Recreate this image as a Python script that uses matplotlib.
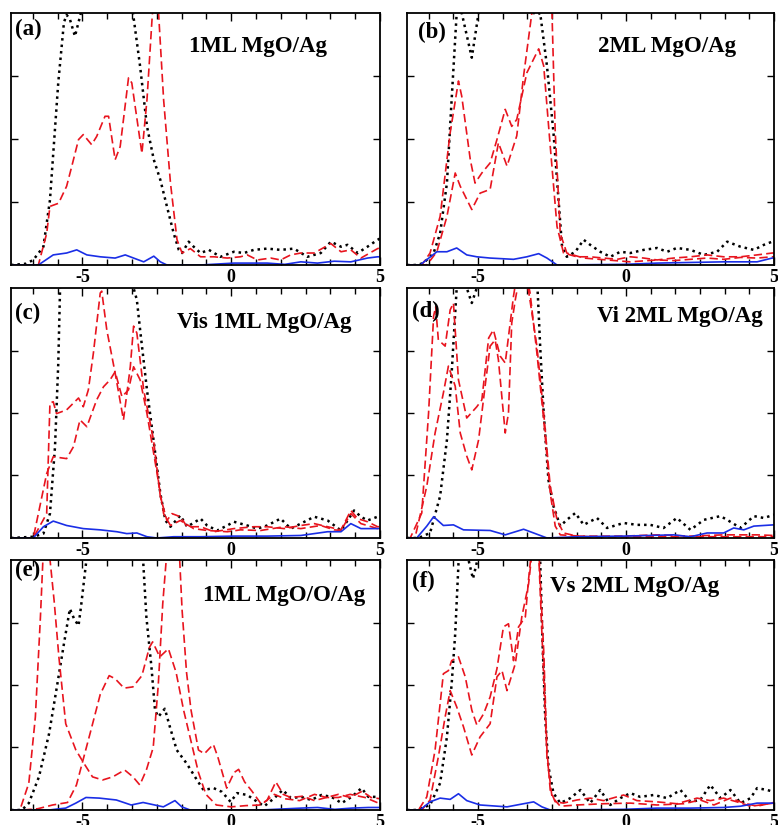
import matplotlib
matplotlib.use("Agg")

import matplotlib.pyplot as plt
from matplotlib.ticker import MultipleLocator, FixedLocator

# =========================
# Data
# =========================
# (a) 1ML MgO/Ag
A_BLACK_X = [-7.4, -6.9, -6.65, -6.31, -6.09, -5.81, -5.62, -5.53, -5.42, -5.25, -5.05, -4.9, -4.5, -4.0, -3.5, -3.3, -3.06, -2.83, -2.6, -2.38, -2.16, -1.93, -1.76, -1.65, -1.43, -1.26, -1.03, -0.75, -0.36, 0.09, 0.43, 0.76, 1.21, 1.66, 2.11, 2.56, 3.01, 3.35, 3.69, 3.91, 4.25, 4.58, 4.92, 5.0]
A_BLACK_Y = [0.0, 0.02, 0.08, 0.29, 1.03, 2.9, 3.85, 3.97, 3.9, 3.63, 4.0, 4.4, 5.5, 6.0, 5.0, 4.0, 3.15, 2.2, 1.67, 1.35, 0.93, 0.5, 0.24, 0.19, 0.37, 0.29, 0.19, 0.24, 0.13, 0.21, 0.19, 0.24, 0.26, 0.24, 0.26, 0.13, 0.19, 0.37, 0.29, 0.32, 0.19, 0.29, 0.4, 0.42]
A_RED_X = [-7.4, -6.48, -6.2, -6.09, -5.8, -5.53, -5.36, -5.13, -4.97, -4.69, -4.52, -4.24, -4.12, -3.9, -3.73, -3.45, -3.34, -3.0, -2.83, -2.66, -2.55, -2.44, -2.27, -2.04, -1.82, -1.65, -1.37, -1.03, -0.58, -0.13, 0.31, 0.54, 0.88, 1.33, 1.66, 2.0, 2.34, 2.79, 3.35, 3.69, 4.02, 4.36, 4.92, 5.0]
A_RED_Y = [0.0, 0.0, 0.5, 0.93, 0.98, 1.25, 1.56, 1.99, 2.07, 1.91, 2.04, 2.36, 2.36, 1.67, 1.88, 2.97, 2.89, 1.77, 2.62, 3.9, 4.6, 4.0, 2.62, 1.3, 0.4, 0.19, 0.26, 0.13, 0.13, 0.11, 0.13, 0.16, 0.08, 0.11, 0.08, 0.16, 0.19, 0.19, 0.34, 0.21, 0.24, 0.11, 0.26, 0.27]
A_BLUE_X = [-7.4, -6.48, -5.98, -5.53, -5.19, -4.85, -4.4, -3.9, -3.56, -3.28, -2.94, -2.6, -2.38, -2.16, -1.03, 0.09, 1.21, 1.8, 2.34, 2.9, 3.46, 4.02, 4.58, 4.92, 5.0]
A_BLUE_Y = [0.0, 0.0, 0.16, 0.19, 0.24, 0.16, 0.13, 0.11, 0.16, 0.11, 0.05, 0.14, 0.05, 0.0, 0.0, 0.03, 0.03, 0.01, 0.05, 0.03, 0.06, 0.05, 0.11, 0.13, 0.13]

# (b) 2ML MgO/Ag
B_BLACK_X = [-7.4, -7.07, -6.84, -6.5, -6.28, -6.05, -5.89, -5.72, -5.63, -5.55, -5.21, -4.98, -4.87, -4.5, -4.0, -3.5, -3.12, -3.01, -2.9, -2.67, -2.45, -2.28, -2.16, -2.0, -1.71, -1.43, -1.21, -0.87, -0.53, -0.19, 0.15, 0.6, 1.05, 1.39, 1.72, 2.18, 2.63, 3.08, 3.42, 3.87, 4.32, 4.66, 4.94, 5.0]
B_BLACK_Y = [0.0, 0.0, 0.03, 0.19, 0.5, 1.3, 2.63, 4.0, 4.3, 4.0, 3.29, 4.0, 4.4, 5.5, 6.0, 5.0, 4.0, 3.97, 4.0, 3.16, 2.1, 1.04, 0.29, 0.13, 0.21, 0.4, 0.32, 0.21, 0.13, 0.21, 0.19, 0.24, 0.27, 0.21, 0.27, 0.24, 0.16, 0.21, 0.37, 0.29, 0.24, 0.32, 0.37, 0.38]
B_RED1_X = [-7.4, -6.9, -6.62, -6.28, -5.94, -5.66, -5.55, -5.26, -5.1, -4.87, -4.59, -4.36, -4.08, -3.86, -3.69, -3.35, -2.95, -2.78, -2.56, -2.33, -2.11, -1.66, -1.21, -0.76, -0.3, 0.15, 0.6, 1.05, 1.61, 2.18, 2.74, 3.3, 3.87, 4.43, 4.94, 5.0]
B_RED1_Y = [0.0, 0.0, 0.19, 0.77, 2.1, 2.92, 2.68, 1.67, 1.3, 1.46, 1.62, 1.99, 2.47, 2.2, 2.31, 3.05, 3.43, 3.16, 1.89, 0.61, 0.19, 0.13, 0.13, 0.11, 0.09, 0.13, 0.11, 0.08, 0.11, 0.13, 0.16, 0.13, 0.13, 0.16, 0.19, 0.19]
B_RED2_X = [-7.4, -6.73, -6.39, -6.05, -5.77, -5.6, -5.21, -4.93, -4.59, -4.31, -4.02, -3.69, -3.46, -3.18, -2.9, -2.5, -2.39, -2.22, -2.0, -1.43, -0.64, 0.15, 1.05, 1.61, 2.18, 2.74, 3.3, 3.87, 4.43, 4.94, 5.0]
B_RED2_Y = [0.0, 0.0, 0.21, 0.77, 1.46, 1.25, 0.88, 1.14, 1.2, 1.94, 1.57, 2.05, 3.0, 4.0, 4.5, 4.0, 2.1, 0.5, 0.19, 0.11, 0.08, 0.05, 0.08, 0.07, 0.09, 0.11, 0.09, 0.12, 0.11, 0.13, 0.13]
B_BLUE_X = [-7.4, -6.96, -6.39, -6.05, -5.72, -5.38, -5.04, -4.59, -3.8, -3.35, -2.95, -2.67, -2.33, -0.08, 1.05, 2.18, 3.3, 4.43, 4.94, 5.0]
B_BLUE_Y = [0.0, 0.0, 0.21, 0.21, 0.27, 0.16, 0.13, 0.11, 0.09, 0.13, 0.18, 0.11, 0.0, 0.01, 0.03, 0.04, 0.05, 0.05, 0.11, 0.11]

# (c) Vis 1ML MgO/Ag
C_BLACK_X = [-7.4, -6.65, -6.31, -6.09, -5.92, -5.81, -5.75, -5.6, -5.0, -4.0, -3.4, -3.28, -3.17, -3.06, -2.83, -2.61, -2.38, -2.21, -2.04, -1.71, -1.48, -1.03, -0.81, -0.47, -0.13, 0.09, 0.54, 0.88, 1.21, 1.66, 2.0, 2.34, 2.79, 3.24, 3.69, 4.13, 4.36, 4.58, 4.92, 5.0]
C_BLACK_Y = [0.0, 0.02, 0.07, 0.39, 1.46, 2.8, 4.0, 5.0, 6.0, 6.0, 4.5, 4.0, 3.81, 3.33, 2.37, 1.57, 0.71, 0.28, 0.18, 0.36, 0.18, 0.31, 0.2, 0.12, 0.2, 0.26, 0.2, 0.15, 0.2, 0.31, 0.15, 0.23, 0.34, 0.28, 0.12, 0.44, 0.34, 0.28, 0.34, 0.34]
C_RED1_X = [-7.4, -6.65, -6.2, -6.09, -5.98, -5.87, -5.53, -5.13, -4.97, -4.8, -4.63, -4.4, -4.35, -4.18, -3.9, -3.62, -3.39, -3.28, -3.17, -2.94, -2.61, -2.38, -2.16, -1.99, -1.71, -1.48, -1.03, -0.58, 0.09, 0.76, 1.21, 1.78, 2.34, 2.79, 3.24, 3.69, 4.02, 4.25, 4.58, 4.92, 5.0]
C_RED1_Y = [0.0, 0.0, 0.39, 2.16, 2.18, 1.99, 2.05, 2.24, 2.1, 2.37, 2.96, 3.92, 3.95, 3.33, 2.64, 1.89, 2.74, 3.39, 3.28, 2.37, 1.57, 0.66, 0.28, 0.39, 0.34, 0.18, 0.18, 0.1, 0.15, 0.18, 0.18, 0.15, 0.2, 0.23, 0.18, 0.13, 0.44, 0.31, 0.26, 0.18, 0.18]
C_RED2_X = [-7.4, -6.65, -6.2, -5.98, -5.53, -5.3, -5.08, -4.85, -4.52, -4.29, -4.07, -3.9, -3.67, -3.45, -3.28, -3.06, -2.83, -2.49, -2.27, -2.04, -1.71, -1.26, -0.81, -0.13, 0.31, 0.99, 1.78, 2.34, 3.01, 3.46, 3.69, 4.02, 4.36, 4.92, 5.0]
C_RED2_Y = [0.0, 0.0, 1.03, 1.3, 1.27, 1.46, 1.89, 1.78, 2.21, 2.42, 2.53, 2.66, 2.26, 2.37, 2.74, 2.53, 1.99, 1.03, 0.39, 0.2, 0.28, 0.15, 0.12, 0.1, 0.13, 0.12, 0.18, 0.15, 0.2, 0.13, 0.12, 0.39, 0.23, 0.15, 0.15]
C_BLUE_X = [-7.4, -6.65, -6.31, -5.98, -5.53, -4.97, -4.4, -3.84, -3.51, -3.17, -2.83, -2.5, -1.93, -1.03, 0.09, 1.21, 2.34, 3.24, 3.69, 4.02, 4.36, 4.92, 5.0]
C_BLUE_Y = [0.0, 0.0, 0.18, 0.27, 0.2, 0.15, 0.13, 0.1, 0.07, 0.08, 0.02, 0.0, 0.02, 0.02, 0.03, 0.03, 0.04, 0.1, 0.1, 0.23, 0.15, 0.15, 0.15]

# (d) Vi 2ML MgO/Ag
D_BLACK_X = [-7.4, -7.01, -6.62, -6.28, -6.05, -5.89, -5.77, -5.72, -5.55, -5.38, -5.21, -5.04, -4.87, -4.5, -4.0, -3.5, -3.01, -2.95, -2.9, -2.78, -2.62, -2.45, -2.22, -2.0, -1.71, -1.43, -0.98, -0.64, -0.08, 0.37, 0.82, 1.27, 1.72, 2.18, 2.63, 3.19, 3.42, 3.87, 4.32, 4.66, 4.99, 5.0]
D_BLACK_Y = [0.0, 0.0, 0.08, 0.67, 1.57, 2.64, 3.6, 4.0, 4.3, 4.0, 3.76, 4.0, 4.5, 5.5, 6.0, 5.5, 4.2, 3.6, 3.07, 2.0, 0.93, 0.51, 0.19, 0.29, 0.4, 0.21, 0.32, 0.16, 0.24, 0.21, 0.21, 0.16, 0.32, 0.13, 0.29, 0.35, 0.29, 0.16, 0.35, 0.32, 0.37, 0.37]
D_RED1_X = [-7.4, -7.29, -6.9, -6.67, -6.5, -6.43, -6.34, -6.11, -5.94, -5.83, -5.66, -5.38, -5.04, -4.87, -4.64, -4.48, -4.25, -4.08, -3.8, -3.69, -3.46, -3.29, -3.01, -2.78, -2.56, -2.33, -2.11, -1.66, -0.08, 1.05, 2.18, 3.3, 4.43, 5.0]
D_RED1_Y = [0.0, 0.0, 0.4, 2.0, 3.55, 3.7, 3.17, 3.07, 3.65, 3.76, 2.53, 1.92, 2.1, 2.21, 3.2, 3.33, 2.91, 2.8, 3.87, 4.2, 4.3, 3.95, 3.07, 2.0, 0.83, 0.29, 0.08, 0.03, 0.03, 0.05, 0.03, 0.05, 0.05, 0.04]
D_RED2_X = [-7.4, -7.13, -6.73, -6.45, -6.17, -6.0, -5.77, -5.6, -5.38, -5.21, -4.98, -4.76, -4.59, -4.42, -4.31, -4.08, -3.97, -3.86, -3.74, -3.63, -3.4, -3.24, -3.01, -2.78, -2.56, -2.39, -2.22, -1.21, 1.05, 3.3, 5.0]
D_RED2_Y = [0.0, 0.0, 0.83, 1.68, 2.32, 2.75, 2.43, 1.68, 1.31, 1.09, 1.57, 2.43, 3.07, 3.17, 2.85, 1.68, 2.0, 3.44, 3.81, 4.1, 4.3, 3.92, 2.96, 1.89, 0.72, 0.19, 0.05, 0.02, 0.02, 0.02, 0.02]
D_BLUE_X = [-7.4, -7.07, -6.73, -6.5, -6.17, -5.83, -5.49, -4.59, -4.08, -3.46, -3.12, -2.67, -1.66, -0.08, 1.61, 2.18, 2.74, 3.3, 3.64, 3.98, 4.32, 4.99, 5.0]
D_BLUE_Y = [0.0, 0.0, 0.19, 0.34, 0.2, 0.21, 0.13, 0.12, 0.05, 0.14, 0.08, 0.0, 0.02, 0.03, 0.05, 0.02, 0.08, 0.08, 0.16, 0.13, 0.19, 0.21, 0.21]

# (e) 1ML MgO/O/Ag
E_BLACK_X = [-7.4, -7.03, -6.8, -6.46, -6.12, -5.84, -5.62, -5.42, -5.28, -5.13, -5.05, -4.88, -4.7, -4.0, -3.3, -2.96, -2.85, -2.68, -2.56, -2.45, -2.23, -2.06, -1.83, -1.49, -1.15, -0.93, -0.59, -0.31, -0.02, 0.2, 0.54, 0.88, 1.11, 1.45, 1.73, 2.01, 2.35, 2.69, 3.03, 3.37, 3.71, 4.05, 4.38, 4.61, 4.95, 5.0]
E_BLACK_Y = [0.0, 0.0, 0.11, 0.53, 1.22, 2.02, 2.66, 3.22, 3.06, 2.95, 3.24, 3.94, 4.6, 6.0, 5.0, 4.0, 3.09, 2.29, 1.6, 1.49, 1.62, 1.33, 0.96, 0.74, 0.48, 0.32, 0.35, 0.29, 0.13, 0.27, 0.24, 0.13, 0.06, 0.19, 0.32, 0.19, 0.21, 0.16, 0.24, 0.21, 0.11, 0.21, 0.35, 0.21, 0.21, 0.21]
E_RED1_X = [-7.4, -7.1, -6.8, -6.58, -6.41, -6.3, -6.15, -5.95, -5.79, -5.56, -5.22, -4.94, -4.66, -4.32, -3.98, -3.58, -3.3, -3.07, -2.85, -2.62, -2.45, -2.3, -2.15, -1.95, -1.75, -1.65, -1.5, -1.35, -1.1, -0.9, -0.6, -0.45, -0.15, 0.1, 0.25, 0.45, 0.7, 1.0, 1.2, 1.5, 1.75, 2.0, 2.4, 2.8, 3.2, 3.6, 4.0, 4.4, 4.7, 5.0]
E_RED1_Y = [0.0, 0.0, 0.43, 1.49, 3.09, 4.3, 4.3, 3.35, 2.45, 1.38, 0.96, 0.74, 0.53, 0.48, 0.53, 0.64, 0.53, 0.4, 0.64, 1.0, 2.0, 3.3, 4.2, 4.6, 4.2, 3.2, 2.2, 1.6, 0.96, 0.9, 1.05, 0.85, 0.35, 0.6, 0.65, 0.45, 0.3, 0.1, 0.15, 0.45, 0.25, 0.2, 0.22, 0.15, 0.2, 0.25, 0.2, 0.3, 0.2, 0.18]
E_RED2_X = [-7.4, -7.0, -6.5, -6.0, -5.5, -5.2, -4.95, -4.7, -4.4, -4.1, -3.9, -3.6, -3.3, -3.0, -2.75, -2.64, -2.4, -2.11, -1.85, -1.6, -1.35, -1.1, -0.85, -0.5, 0.0, 0.5, 1.0, 1.45, 1.8, 2.3, 2.8, 3.2, 3.6, 4.0, 4.5, 5.0]
E_RED2_Y = [0.0, 0.0, 0.02, 0.08, 0.12, 0.4, 0.85, 1.3, 1.85, 2.15, 2.1, 1.95, 1.97, 2.15, 2.6, 2.69, 2.45, 2.58, 2.2, 1.6, 1.1, 0.6, 0.25, 0.08, 0.05, 0.07, 0.08, 0.25, 0.18, 0.15, 0.25, 0.2, 0.2, 0.25, 0.2, 0.1]
E_BLUE_X = [-7.4, -6.12, -5.56, -5.22, -4.88, -4.43, -3.86, -3.36, -2.96, -2.28, -1.89, -1.66, -1.38, 1.0, 2.35, 2.9, 3.48, 4.05, 4.61, 4.95, 5.0]
E_BLUE_Y = [0.0, 0.0, 0.03, 0.11, 0.2, 0.19, 0.16, 0.08, 0.12, 0.05, 0.15, 0.05, 0.0, 0.0, 0.03, 0.04, 0.01, 0.03, 0.04, 0.04, 0.04]

# (f) Vs 2ML MgO/Ag
F_BLACK_X = [-7.4, -7.07, -6.62, -6.28, -6.05, -5.89, -5.77, -5.66, -5.55, -5.32, -5.17, -5.02, -4.81, -4.3, -3.8, -3.3, -2.9, -2.81, -2.73, -2.62, -2.45, -2.22, -1.88, -1.54, -1.21, -0.87, -0.53, -0.19, 0.15, 0.48, 0.94, 1.39, 1.84, 2.18, 2.51, 2.85, 3.19, 3.53, 3.87, 4.21, 4.43, 4.77, 4.99, 5.0]
F_BLACK_Y = [0.0, 0.0, 0.08, 0.43, 1.17, 2.02, 2.82, 3.94, 4.3, 4.0, 3.7, 4.0, 4.6, 5.5, 6.0, 5.5, 4.0, 2.55, 1.49, 0.69, 0.27, 0.11, 0.19, 0.32, 0.11, 0.32, 0.08, 0.19, 0.27, 0.21, 0.24, 0.19, 0.32, 0.13, 0.16, 0.4, 0.19, 0.32, 0.11, 0.19, 0.35, 0.32, 0.29, 0.29]
F_RED1_X = [-7.4, -7.01, -6.73, -6.45, -6.17, -6.0, -5.89, -5.66, -5.43, -5.21, -5.04, -4.81, -4.59, -4.36, -4.14, -3.97, -3.8, -3.63, -3.4, -3.29, -3.18, -2.95, -2.78, -2.67, -2.56, -2.39, -2.11, -1.66, -1.21, -0.76, -0.08, 0.37, 1.05, 1.72, 2.4, 2.85, 3.3, 3.75, 4.21, 4.54, 4.99, 5.0]
F_RED1_Y = [0.0, 0.0, 0.21, 0.96, 2.18, 2.23, 2.39, 2.45, 2.13, 1.6, 1.36, 1.54, 1.81, 2.26, 2.93, 2.98, 2.39, 2.93, 3.09, 3.7, 4.2, 4.2, 2.55, 0.96, 0.32, 0.13, 0.11, 0.16, 0.19, 0.15, 0.24, 0.15, 0.13, 0.1, 0.19, 0.15, 0.19, 0.13, 0.06, 0.08, 0.11, 0.11]
F_RED2_X = [-7.4, -6.9, -6.62, -6.34, -6.11, -5.94, -5.72, -5.49, -5.21, -4.93, -4.59, -4.36, -4.19, -4.02, -3.74, -3.52, -3.29, -3.18, -2.95, -2.84, -2.67, -2.5, -2.22, -1.66, -0.76, 0.15, 1.05, 1.95, 2.51, 2.97, 3.53, 3.98, 4.43, 4.99, 5.0]
F_RED2_Y = [0.0, 0.0, 0.16, 0.85, 1.49, 1.91, 1.65, 1.33, 0.88, 1.17, 1.38, 2.13, 2.23, 1.91, 2.34, 3.09, 3.62, 4.1, 4.1, 2.82, 0.85, 0.21, 0.06, 0.08, 0.1, 0.11, 0.08, 0.1, 0.16, 0.08, 0.19, 0.11, 0.06, 0.12, 0.12]
F_BLUE_X = [-7.4, -6.96, -6.62, -6.28, -5.94, -5.66, -5.38, -4.93, -4.02, -3.46, -3.12, -2.84, -2.56, -0.08, 1.05, 2.18, 3.3, 3.87, 4.43, 4.99, 5.0]
F_BLUE_Y = [0.0, 0.0, 0.13, 0.19, 0.17, 0.26, 0.15, 0.08, 0.05, 0.1, 0.13, 0.05, 0.0, 0.01, 0.03, 0.03, 0.04, 0.06, 0.11, 0.11, 0.11]

PANEL_TAGS = ["(a)", "(b)", "(c)", "(d)", "(e)", "(f)"]
PANEL_TITLES = ["1ML MgO/Ag", "2ML MgO/Ag", "Vis 1ML MgO/Ag",
                "Vi 2ML MgO/Ag", "1ML MgO/O/Ag", "Vs 2ML MgO/Ag"]
X_TICKS = [-5, 0, 5]
X_TICK_LABELS = ["-5", "0", "5"]
Y_TICKS = [1, 2, 3]

PANELS = [
    ([(A_BLACK_X, A_BLACK_Y)], [(A_RED_X, A_RED_Y)], (A_BLUE_X, A_BLUE_Y)),
    ([(B_BLACK_X, B_BLACK_Y)], [(B_RED1_X, B_RED1_Y), (B_RED2_X, B_RED2_Y)], (B_BLUE_X, B_BLUE_Y)),
    ([(C_BLACK_X, C_BLACK_Y)], [(C_RED1_X, C_RED1_Y), (C_RED2_X, C_RED2_Y)], (C_BLUE_X, C_BLUE_Y)),
    ([(D_BLACK_X, D_BLACK_Y)], [(D_RED1_X, D_RED1_Y), (D_RED2_X, D_RED2_Y)], (D_BLUE_X, D_BLUE_Y)),
    ([(E_BLACK_X, E_BLACK_Y)], [(E_RED1_X, E_RED1_Y), (E_RED2_X, E_RED2_Y)], (E_BLUE_X, E_BLUE_Y)),
    ([(F_BLACK_X, F_BLACK_Y)], [(F_RED1_X, F_RED1_Y), (F_RED2_X, F_RED2_Y)], (F_BLUE_X, F_BLUE_Y)),
]

# =========================
# Style / layout
# =========================
plt.rcParams["font.family"] = ["Liberation Serif", "DejaVu Serif"]
plt.rcParams["font.weight"] = "bold"
plt.rcParams["axes.unicode_minus"] = False

FIG_W, FIG_H = 7.78, 8.25
DPI = 100

# axes rectangles in figure fractions [left, bottom, width, height]
COL_LEFT = [0.0141, 0.5231]
COL_W = [0.4743, 0.4717]
ROW_BOTTOM = [0.6788, 0.3479, 0.0182]
ROW_H = [0.3055, 0.303, 0.303]

# label / title placement (axes fractions, top-left anchor)
TAG_POS = [(0.012, 0.975), (0.03, 0.965), (0.012, 0.94), (0.014, 0.95), (0.012, 1.0), (0.014, 0.955)]
TITLE_POS = [(0.482, 0.91), (0.52, 0.91), (0.45, 0.905), (0.518, 0.93), (0.52, 0.9), (0.39, 0.935)]

TEXT_FS = 16.5
TICK_FS = 13

fig = plt.figure(figsize=(FIG_W, FIG_H), dpi=DPI)

for k, (blacks, reds, blue) in enumerate(PANELS):
    r, c = divmod(k, 2)
    ax = fig.add_axes([COL_LEFT[c], ROW_BOTTOM[r], COL_W[c], ROW_H[r]])

    for bx, by in blacks:
        ax.plot(bx, by, color="black", lw=1.8, linestyle=(0, (1, 1.6)))
    for rx, ry in reds:
        ax.plot(rx, ry, color="#e8141e", lw=1.2, linestyle=(0, (5, 2.5)))
    ax.plot(blue[0], blue[1], color="#1a2ee6", lw=1.2)

    ax.set_xlim(-7.4, 5.0)
    ax.set_ylim(0, 4)

    ax.xaxis.set_major_locator(FixedLocator(X_TICKS))
    ax.xaxis.set_minor_locator(MultipleLocator(5 / 6))
    ax.set_xticklabels(X_TICK_LABELS)
    ax.yaxis.set_major_locator(FixedLocator(Y_TICKS))
    ax.set_yticklabels([])

    ax.tick_params(axis="x", which="major", direction="in", top=True, bottom=True,
                   length=6, width=1.0, labelsize=TICK_FS, pad=3)
    ax.tick_params(axis="x", which="minor", direction="in", top=True, bottom=True,
                   length=4, width=1.0)
    ax.tick_params(axis="y", which="major", direction="in", left=True, right=True,
                   length=5, width=1.0)
    for lab in ax.get_xticklabels():
        lab.set_fontweight("bold")

    for sp in ax.spines.values():
        sp.set_linewidth(1.3)

    ax.text(TAG_POS[k][0], TAG_POS[k][1], PANEL_TAGS[k], transform=ax.transAxes,
            ha="left", va="top", fontsize=TEXT_FS, fontweight="bold")
    ax.text(TITLE_POS[k][0], TITLE_POS[k][1], PANEL_TITLES[k], transform=ax.transAxes,
            ha="left", va="top", fontsize=TEXT_FS, fontweight="bold")

fig.savefig("out.png", dpi=DPI)
plt.close(fig)
